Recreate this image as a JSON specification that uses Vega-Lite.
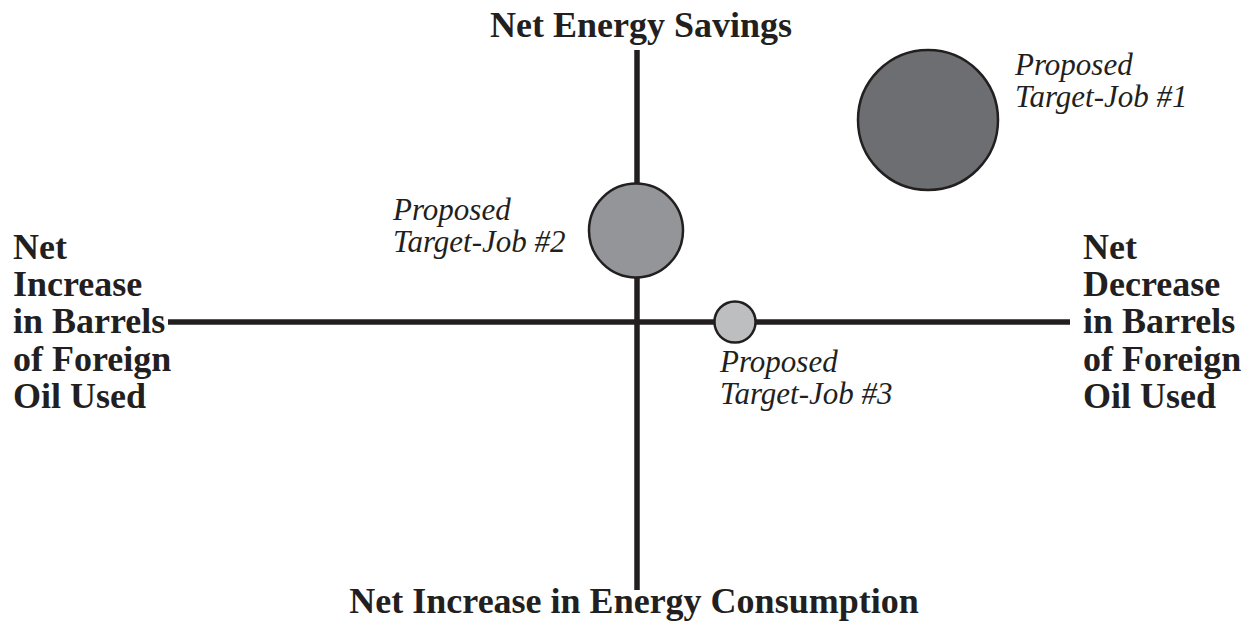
{
  "$schema": "https://vega.github.io/schema/vega-lite/v6.json",
  "width": 1255,
  "height": 624,
  "autosize": {"type": "fit", "contains": "padding"},
  "padding": 0,
  "background": "white",
  "config": {"view": {"stroke": null}},
  "data": {
    "values": [
      {"kind": "axis", "x": -469, "x2": 433, "y": 0, "y2": 0},
      {"kind": "axis", "x": 0, "x2": 0, "y": 272, "y2": -268},
      {"kind": "job", "job": "#1", "x": 291, "y": 202, "impact": 100},
      {"kind": "job", "job": "#2", "x": -1, "y": 91.5, "impact": 45.1},
      {"kind": "job", "job": "#3", "x": 98, "y": 0, "impact": 8.6},
      {"kind": "joblabel", "x": 378, "y": 247, "text": "Proposed"},
      {"kind": "joblabel", "x": 378, "y": 215, "text": "Target-Job #1"},
      {"kind": "joblabel", "x": -244, "y": 102, "text": "Proposed"},
      {"kind": "joblabel", "x": -244, "y": 70, "text": "Target-Job #2"},
      {"kind": "joblabel", "x": 83, "y": -50, "text": "Proposed"},
      {"kind": "joblabel", "x": 83, "y": -82, "text": "Target-Job #3"},
      {"kind": "title", "x": 4, "y": 285, "text": "Net Energy Savings"},
      {"kind": "title", "x": -3, "y": -291, "text": "Net Increase in Energy Consumption"},
      {"kind": "side", "x": -624, "y": 63, "text": "Net"},
      {"kind": "side", "x": -624, "y": 26, "text": "Increase"},
      {"kind": "side", "x": -624, "y": -11, "text": "in Barrels"},
      {"kind": "side", "x": -624, "y": -49, "text": "of Foreign"},
      {"kind": "side", "x": -624, "y": -86, "text": "Oil Used"},
      {"kind": "side", "x": 446, "y": 63, "text": "Net"},
      {"kind": "side", "x": 446, "y": 26, "text": "Decrease"},
      {"kind": "side", "x": 446, "y": -11, "text": "in Barrels"},
      {"kind": "side", "x": 446, "y": -49, "text": "of Foreign"},
      {"kind": "side", "x": 446, "y": -86, "text": "Oil Used"}
    ]
  },
  "encoding": {
    "x": {"field": "x", "type": "quantitative", "axis": null, "scale": {"domain": [-637, 618], "nice": false, "zero": false}},
    "y": {"field": "y", "type": "quantitative", "axis": null, "scale": {"domain": [-302, 322], "nice": false, "zero": false}}
  },
  "layer": [
    {
      "transform": [{"filter": "datum.kind === 'axis'"}],
      "mark": {"type": "rule", "color": "#231f20", "strokeWidth": 5.5},
      "encoding": {
        "x2": {"field": "x2"},
        "y2": {"field": "y2"}
      }
    },
    {
      "transform": [{"filter": "datum.kind === 'job'"}],
      "mark": {"type": "point", "shape": "circle", "filled": true, "fillOpacity": 1, "opacity": 1, "stroke": "#231f20", "strokeWidth": 2.5},
      "encoding": {
        "size": {"field": "impact", "type": "quantitative", "legend": null, "scale": {"type": "linear", "domain": [0, 100], "range": [0, 19600], "zero": true}},
        "fill": {"field": "job", "type": "nominal", "legend": null, "scale": {"domain": ["#1", "#2", "#3"], "range": ["#6d6e71", "#939598", "#bcbec0"]}}
      }
    },
    {
      "transform": [{"filter": "datum.kind === 'joblabel'"}],
      "mark": {"type": "text", "align": "left", "baseline": "alphabetic", "font": "Liberation Serif", "fontStyle": "italic", "fontSize": 31, "color": "#231f20"},
      "encoding": {"text": {"field": "text"}}
    },
    {
      "transform": [{"filter": "datum.kind === 'title'"}],
      "mark": {"type": "text", "align": "center", "baseline": "alphabetic", "font": "Liberation Serif", "fontWeight": "bold", "fontSize": 36, "color": "#231f20"},
      "encoding": {"text": {"field": "text"}}
    },
    {
      "transform": [{"filter": "datum.kind === 'side'"}],
      "mark": {"type": "text", "align": "left", "baseline": "alphabetic", "font": "Liberation Serif", "fontWeight": "bold", "fontSize": 36, "color": "#231f20"},
      "encoding": {"text": {"field": "text"}}
    }
  ]
}
